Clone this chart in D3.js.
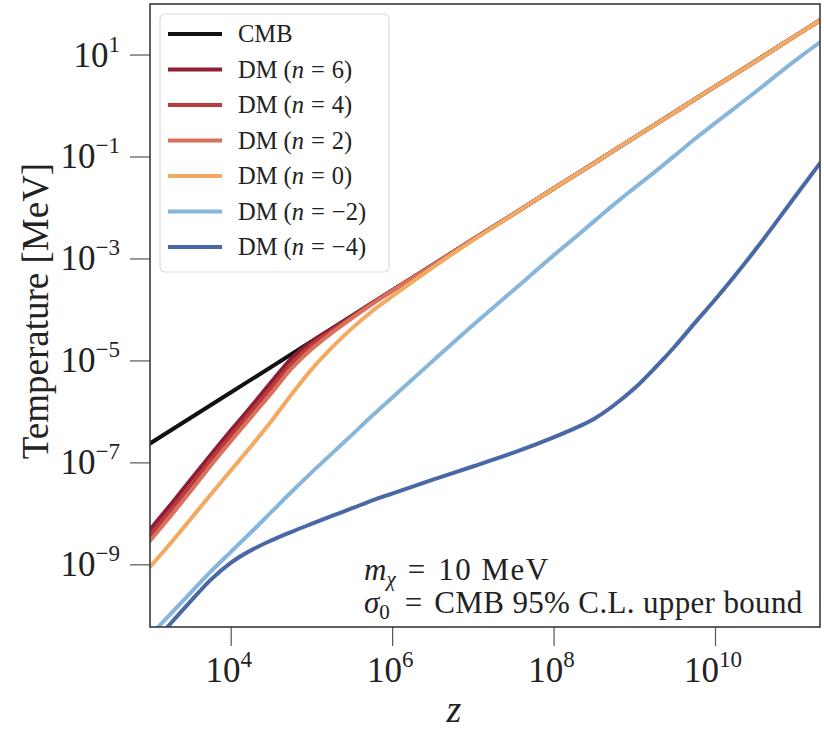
<!DOCTYPE html>
<html>
<head>
<meta charset="utf-8">
<script src="https://cdn.jsdelivr.net/npm/d3@7"></script>
<style>
  body { margin: 0; background: #fff; }
  svg text { font-family: "Liberation Serif", "DejaVu Serif", serif; fill: #222; }
</style>
</head>
<body>
<svg id="chart" width="824" height="730"></svg>
<script>
// redshift grid shared by the DM curves
const zGrid = [1e3, 1.8e3, 3.2e3, 5.6e3, 1e4, 1.8e4, 3.2e4, 5.6e4, 1e5, 1.8e5, 3.2e5, 5.6e5, 1e6, 3.2e6,
               1e7, 3.2e7, 1e8, 1.8e8, 3.2e8, 5.6e8, 1e9, 1.8e9, 3.2e9, 5.6e9, 1e10, 3.2e10, 1e11, 2e11];

// CMB temperature (MeV)
const cmbZ = [1e3, 1e4, 1e5, 1e6, 1e7, 1e8, 1e9, 1e10, 1e11, 2e11];
const cmbT = [2.35e-7, 2.35e-6, 2.35e-5, 2.35e-4, 2.35e-3, 2.35e-2, 0.235, 2.35, 23.5, 47];

// DM temperatures (MeV), on zGrid
const dmN6  = [4.8e-9, 1.48e-8, 4.6e-8, 1.38e-7, 4.2e-7, 1.26e-6, 3.8e-6, 1.07e-5, 2.3e-5, 4.2e-5, 7.4e-5, 1.32e-4, 2.35e-4,
               7.4e-4, 2.35e-3, 7.4e-3, 2.35e-2, 4.2e-2, 7.4e-2, 0.132, 0.235, 0.42, 0.74, 1.32, 2.35, 7.4, 23.5, 47];
const dmN4  = [3.7e-9, 1.15e-8, 3.5e-8, 1.1e-7, 3.3e-7, 1.0e-6, 2.95e-6, 8.5e-6, 2.0e-5, 3.9e-5, 7.2e-5, 1.32e-4, 2.35e-4,
               7.4e-4, 2.35e-3, 7.4e-3, 2.35e-2, 4.2e-2, 7.4e-2, 0.132, 0.235, 0.42, 0.74, 1.32, 2.35, 7.4, 23.5, 47];
const dmN2  = [2.9e-9, 8.9e-9, 2.75e-8, 8.5e-8, 2.6e-7, 7.8e-7, 2.3e-6, 6.8e-6, 1.66e-5, 3.5e-5, 6.8e-5, 1.26e-4, 2.3e-4,
               7.4e-4, 2.35e-3, 7.4e-3, 2.35e-2, 4.2e-2, 7.4e-2, 0.132, 0.235, 0.42, 0.74, 1.32, 2.35, 7.4, 23.5, 47];
const dmN0  = [8.9e-10, 2.6e-9, 7.8e-9, 2.3e-8, 6.9e-8, 2.1e-7, 6.5e-7, 2.1e-6, 6.6e-6, 1.8e-5, 4.3e-5, 9.1e-5, 1.8e-4,
               6.7e-4, 2.26e-3, 7.4e-3, 2.35e-2, 4.2e-2, 7.4e-2, 0.132, 0.235, 0.42, 0.74, 1.32, 2.35, 7.4, 23.5, 47];
const dmNm2 = [4.0e-11, 1.07e-10, 2.8e-10, 7.1e-10, 1.74e-9, 4.3e-9, 1.07e-8, 2.6e-8, 6.3e-8, 1.5e-7, 3.5e-7, 8.1e-7, 1.86e-6,
               9.8e-6, 4.9e-5, 2.4e-4, 1.15e-3, 2.5e-3, 5.4e-3, 1.15e-2, 2.4e-2, 5.0e-2, 0.105, 0.22, 0.45, 1.86, 7.8, 17.4];
const dmNm4 = [2.4e-11, 6.9e-11, 1.9e-10, 4.9e-10, 1.07e-9, 1.9e-9, 2.95e-9, 4.3e-9, 6.2e-9, 8.9e-9, 1.26e-8, 1.78e-8, 2.45e-8,
               4.6e-8, 8.3e-8, 1.55e-7, 3.1e-7, 4.6e-7, 7.2e-7, 1.32e-6, 2.8e-6, 7.1e-6, 1.9e-5, 5.4e-5, 1.55e-4, 1.51e-3, 1.7e-2, 7.4e-2];

const legendNames = ["CMB", "6", "4", "2", "0", "\u22122", "\u22124"];
const lineColors = ["#111111", "#8f1d35", "#bb3a3c", "#d9705c", "#f2aa62", "#88b6db", "#4a67a6"];

const xTicks = [1e4, 1e6, 1e8, 1e10];
const xTickExp = ["4", "6", "8", "10"];
const yTicks = [1e-9, 1e-7, 1e-5, 1e-3, 1e-1, 1e1];
const yTickExp = ["\u22129", "\u22127", "\u22125", "\u22123", "\u22121", "1"];

const svg = d3.select("#chart");
const mLeft = 150, mRight = 820, mTop = 4, mBottom = 627;

const x = d3.scaleLog().domain([1e3, 2e11]).range([mLeft, mRight]);
const y = d3.scaleLog().domain([5.9e-11, 98]).range([mBottom, mTop]);

// axes (ticks only, labels drawn by hand for the superscripts)
const yAxis = svg.append("g")
    .attr("transform", `translate(${mLeft},0)`)
    .call(d3.axisLeft(y).tickValues(yTicks).tickSize(20).tickFormat(""));
const xAxis = svg.append("g")
    .attr("transform", `translate(0,${mBottom})`)
    .call(d3.axisBottom(x).tickValues(xTicks).tickSize(19).tickFormat(""));
[yAxis, xAxis].forEach(g => {
    g.select(".domain").remove();
    g.selectAll(".tick line").attr("stroke", "#555").attr("stroke-width", 1.2);
});

yTicks.forEach((v, i) => {
    const t = svg.append("text")
        .attr("x", 120)
        .attr("y", y(v) + 12)
        .attr("text-anchor", "end")
        .attr("font-size", 35);
    t.append("tspan").text("10");
    t.append("tspan").attr("dy", -15).attr("font-size", 23).text(yTickExp[i]);
});

xTicks.forEach((v, i) => {
    const t = svg.append("text")
        .attr("x", x(v) - 2)
        .attr("y", 682)
        .attr("text-anchor", "middle")
        .attr("font-size", 35);
    t.append("tspan").text("10");
    t.append("tspan").attr("dy", -15).attr("font-size", 23).text(xTickExp[i]);
});

svg.append("text")
    .attr("x", 454).attr("y", 722)
    .attr("text-anchor", "middle")
    .attr("font-size", 38)
    .attr("font-style", "italic")
    .text("z");

svg.append("text")
    .attr("transform", `translate(48,311) rotate(-90)`)
    .attr("text-anchor", "middle")
    .attr("font-size", 37)
    .text("Temperature [MeV]");

// curves
svg.append("clipPath").attr("id", "clip")
  .append("rect").attr("x", mLeft).attr("y", mTop).attr("width", mRight - mLeft).attr("height", mBottom - mTop);

const line = d3.line()
    .x(d => x(d[0]))
    .y(d => y(d[1]))
    .curve(d3.curveMonotoneX);

const series = [
    d3.zip(cmbZ, cmbT),
    d3.zip(zGrid, dmN6),
    d3.zip(zGrid, dmN4),
    d3.zip(zGrid, dmN2),
    d3.zip(zGrid, dmN0),
    d3.zip(zGrid, dmNm2),
    d3.zip(zGrid, dmNm4)
];

const plot = svg.append("g").attr("clip-path", "url(#clip)");
series.forEach((s, i) => {
    plot.append("path")
        .datum(s)
        .attr("fill", "none")
        .attr("stroke", lineColors[i])
        .attr("stroke-width", 4)
        .attr("stroke-linecap", "round")
        .attr("stroke-linejoin", "round")
        .attr("d", line);
});

// frame
svg.append("rect")
    .attr("x", mLeft).attr("y", mTop)
    .attr("width", mRight - mLeft).attr("height", mBottom - mTop)
    .attr("fill", "none")
    .attr("stroke", "#3a3a3a")
    .attr("stroke-width", 1.6);

// legend
const lg = svg.append("g");
lg.append("rect")
    .attr("x", 160).attr("y", 14)
    .attr("width", 229).attr("height", 258)
    .attr("rx", 5)
    .attr("fill", "#fff")
    .attr("fill-opacity", 0.85)
    .attr("stroke", "#dcdcdc")
    .attr("stroke-width", 1.2);

legendNames.forEach((name, i) => {
    const yy = 34 + i * 35.5;
    lg.append("line")
        .attr("x1", 168).attr("x2", 222)
        .attr("y1", yy).attr("y2", yy)
        .attr("stroke", lineColors[i])
        .attr("stroke-width", 4);
    const t = lg.append("text")
        .attr("x", 238).attr("y", yy + 8)
        .attr("font-size", 24.5);
    if (i === 0) {
        t.text(name);
    } else {
        t.append("tspan").text("DM (");
        t.append("tspan").attr("font-style", "italic").text("n");
        t.append("tspan").attr("dx", 7).text("=");
        t.append("tspan").attr("dx", 7).text(name + ")");
    }
});

// annotation
const a1 = svg.append("text").attr("x", 364).attr("y", 580).attr("font-size", 31);
a1.append("tspan").attr("font-style", "italic").text("m");
a1.append("tspan").attr("font-style", "italic").attr("font-size", 21).attr("dy", 6).text("\u03c7");
a1.append("tspan").attr("dy", -6).attr("dx", 12).text("=");
a1.append("tspan").attr("dx", 13).attr("textLength", 110).text("10 MeV");

const a2 = svg.append("text").attr("x", 364).attr("y", 613).attr("font-size", 31);
a2.append("tspan").attr("font-style", "italic").text("\u03c3");
a2.append("tspan").attr("font-size", 21).attr("dy", 6).text("0");
a2.append("tspan").attr("dy", -6).attr("dx", 15).text("=");
a2.append("tspan").attr("dx", 12).attr("textLength", 368).text("CMB 95% C.L. upper bound");
</script>
</body>
</html>
